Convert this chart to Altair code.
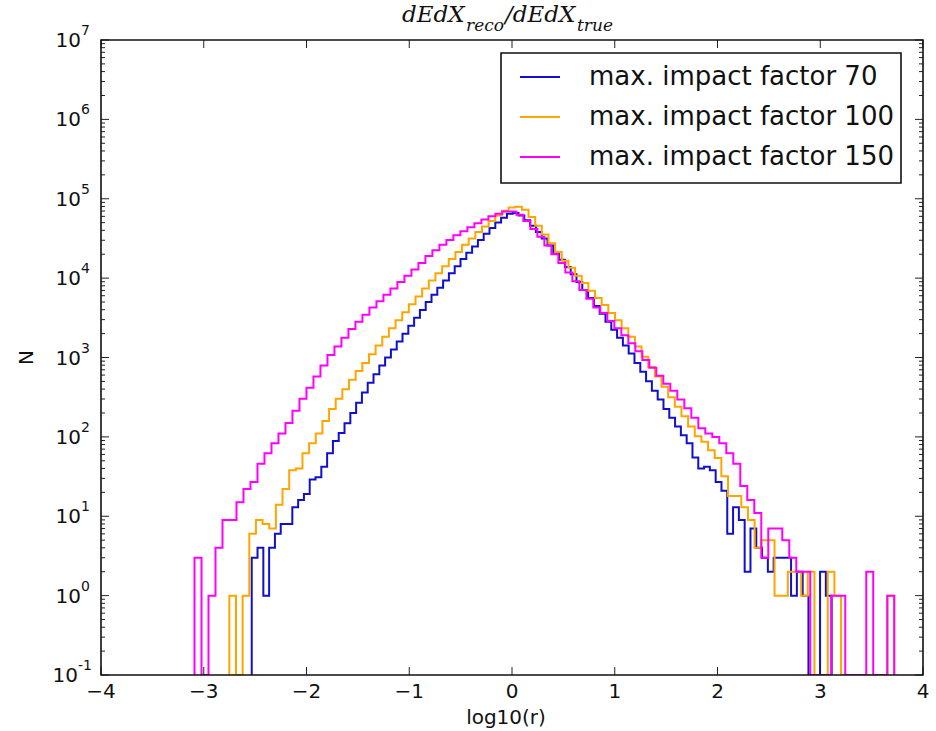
import altair as alt
import numpy as np
import pandas as pd

# ---------------- data ----------------
labels = ["max. impact factor 70", "max. impact factor 100", "max. impact factor 150"]
colors = ["#1010cc", "#ffa500", "#ff00ff"]
range_lo = [-2.533, -2.751, -3.09]
range_hi = [3.111, 3.72, 3.72]

n70 = [3, 4, 1, 4, 6, 8, 8, 13, 16, 19, 29, 31, 42, 62,
       89, 112, 148, 200, 269, 363, 479, 617, 794, 1000, 1259, 1585, 1995, 2512, 3162, 3981,
       5012, 6166, 7586, 9333, 11482, 14125, 17378, 20893, 25119, 30200, 36308, 42658, 50119, 57544, 64565, 66069,
       61660, 53703, 45709, 38019, 31623, 25704, 20893, 16982, 13804, 11220, 8913, 7079, 5623, 4467, 3548, 2818,
       2239, 1778, 1413, 1122, 851, 661, 501, 380, 295, 224, 174, 135, 105, 83,
       55, 40, 42, 38, 27, 21, 6, 13, 9, 2, 7, 4, 3, 2, 3, 3, 3, 1, 2, 1, 0, 0, 2, 1]

n100 = [1, 0, 1, 6, 9, 8, 7, 14, 22, 38, 40, 62, 83, 110,
        158, 224, 302, 398, 525, 676, 851, 1096, 1413, 1820, 2344, 2951, 3715, 4677, 5888, 7413,
        9333, 11482, 14125, 17378, 21380, 26303, 31623, 38019, 44668, 52481, 61660, 70795, 77625, 79433, 72444, 58884,
        45709, 35481, 27542, 21380, 16596, 13490, 10715, 8710, 6918, 5623, 4571, 3631, 2951, 2344, 1820, 1380,
        1023, 759, 575, 427, 316, 240, 182, 135, 102,
        87, 68, 54, 32, 18, 18, 13, 9, 4, 5, 5, 1, 1, 2, 2, 1, 2, 0, 0, 2, 1, 0, 0, 0, 0, 0, 0, 0, 1]

n150 = [3, 0, 1, 4, 9, 9, 15, 22, 27, 46, 62, 83, 110, 150,
        214, 302, 417, 575, 794, 1072, 1380, 1778, 2291, 2818, 3467, 4266, 5129, 6166, 7413, 8913,
        10715, 12882, 15488, 19055, 22387, 26303, 30200, 34674, 38905, 43652, 48978, 54954, 60256, 64565, 69183, 69183,
        63096, 52481, 41687, 33113, 25704, 19953, 15488, 11749, 9120, 7079, 5495, 4266,
        3631, 2884, 2344, 1905, 1514, 1202, 933, 741, 589, 468, 380, 295, 229, 174,
        128, 110, 100, 83, 62, 46, 24, 16, 11, 3, 7, 7, 5, 3, 2, 2, 0, 0, 0, 1, 1, 0, 0, 0, 2, 0, 0, 1]

x_ticks = [-4, -3, -2, -1, 0, 1, 2, 3, 4]
y_exps = [-1, 0, 1, 2, 3, 4, 5, 6, 7]

title_parts = ["dEdX", "reco", "/dEdX", "true"]
x_title = "log10(r)"
y_title = "N"

# ---------------- layout ----------------
W, H = 822, 635
FONT = "DejaVu Sans"

xscale = alt.Scale(domain=[-4, 4], nice=False, zero=False)
yscale = alt.Scale(type="log", domain=[0.1, 1e7], clamp=True, nice=False)


def step_frame(counts, a, b):
    edges = np.linspace(a, b, len(counts) + 1)
    xs = [edges[0]] + list(edges[:-1]) + [edges[-1], edges[-1]]
    ns = [0] + list(counts) + [counts[-1], 0]
    return pd.DataFrame({"x": xs, "n": ns, "o": list(range(len(xs)))})


layers = []
for lab, col, a, b, cnt in zip(labels, colors, range_lo, range_hi, [n70, n100, n150]):
    d = step_frame(cnt, a, b)
    layers.append(
        alt.Chart(d)
        .transform_calculate(ny="max(datum.n, 0.01)")
        .mark_line(interpolate="step-after", color=col, strokeWidth=2, clip=True)
        .encode(
            x=alt.X("x:Q", scale=xscale, axis=None),
            y=alt.Y("ny:Q", scale=yscale, axis=None),
            order=alt.Order("o:Q"),
        )
    )

one = pd.DataFrame({"a": [0]})

# ticks
xt = pd.DataFrame({"t": x_ticks,
                   "lab": [("\u2212" + str(abs(t))) if t < 0 else str(t) for t in x_ticks]})
majors = [10.0 ** e for e in y_exps]
minors = [m * 10.0 ** e for e in y_exps[:-1] for m in range(2, 10)]
ymaj = pd.DataFrame({"v": majors})
ymin = pd.DataFrame({"v": minors})

tick_col = "#222222"
for y0, y1 in [(H, H - 8), (0, 8)]:
    layers.append(
        alt.Chart(xt).mark_rule(color=tick_col, strokeWidth=1).encode(
            x=alt.X("t:Q", scale=xscale, axis=None), y=alt.value(y0), y2=alt.value(y1))
    )
for dfv, ln in [(ymaj, 8), (ymin, 4)]:
    for x0, x1 in [(0, ln), (W, W - ln)]:
        layers.append(
            alt.Chart(dfv).mark_rule(color=tick_col, strokeWidth=1).encode(
                y=alt.Y("v:Q", scale=yscale, axis=None), x=alt.value(x0), x2=alt.value(x1))
        )

# frame
layers.append(
    alt.Chart(one).mark_rect(fillOpacity=0, stroke="#111111", strokeWidth=1.6).encode(
        x=alt.value(0), x2=alt.value(W), y=alt.value(0), y2=alt.value(H))
)

# x tick labels
layers.append(
    alt.Chart(xt).mark_text(font=FONT, fontSize=20, baseline="top", color="#111111").encode(
        x=alt.X("t:Q", scale=xscale, axis=None), y=alt.value(H + 7), text="lab:N")
)

# y tick labels: "10" + exponent
ylab_pos = pd.DataFrame({"v": [10.0 ** e for e in y_exps if e >= 0],
                         "sup": [str(e) for e in y_exps if e >= 0]})
ylab_neg = pd.DataFrame({"v": [10.0 ** e for e in y_exps if e < 0],
                         "sup": ["-" + str(abs(e)) for e in y_exps if e < 0]})
for dfl, bx in [(ylab_pos, -20), (ylab_neg, -23)]:
    layers.append(
        alt.Chart(dfl).transform_calculate(base="'10'").mark_text(
            font=FONT, fontSize=20, align="right", baseline="middle", dy=1, color="#111111").encode(
            y=alt.Y("v:Q", scale=yscale, axis=None), x=alt.value(bx), text="base:N")
    )
    layers.append(
        alt.Chart(dfl).mark_text(
            font=FONT, fontSize=14, align="left", baseline="middle", dy=-9, color="#111111").encode(
            y=alt.Y("v:Q", scale=yscale, axis=None), x=alt.value(bx), text="sup:N")
    )

# axis titles
layers.append(
    alt.Chart(pd.DataFrame({"s": [x_title]})).mark_text(
        font=FONT, fontSize=20, align="center", baseline="middle", color="#111111").encode(
        x=alt.value(W / 2 - 6), y=alt.value(H + 43), text="s:N")
)
layers.append(
    alt.Chart(pd.DataFrame({"s": [y_title]})).mark_text(
        font=FONT, fontSize=20, angle=270, align="center", baseline="middle", color="#111111").encode(
        x=alt.value(-74), y=alt.value(H / 2), text="s:N")
)

# main title (math-style, italic serif with subscripts)
tpos = [(301, -18, 23), (365, -9, 17), (404, -18, 23), (476, -9, 17)]
for txt, (tx, ty, fs) in zip(title_parts, tpos):
    layers.append(
        alt.Chart(pd.DataFrame({"s": [txt]})).mark_text(
            font="DejaVu Serif", fontStyle="italic", fontSize=fs, align="left",
            baseline="alphabetic", color="#111111").encode(
            x=alt.value(tx), y=alt.value(ty), text="s:N")
    )

# legend
LX0, LX1, LY0, LY1 = 400, 800, 13, 143
layers.append(
    alt.Chart(one).mark_rect(fill="white", stroke="#111111", strokeWidth=1.6).encode(
        x=alt.value(LX0), x2=alt.value(LX1), y=alt.value(LY0), y2=alt.value(LY1))
)
for i, (lab, col) in enumerate(zip(labels, colors)):
    yy = 37 + 40 * i
    layers.append(
        alt.Chart(one).mark_rule(color=col, strokeWidth=2).encode(
            x=alt.value(419), x2=alt.value(459), y=alt.value(yy))
    )
    layers.append(
        alt.Chart(pd.DataFrame({"s": [lab]})).mark_text(
            font=FONT, fontSize=26, align="left", baseline="middle", color="#111111").encode(
            x=alt.value(488), y=alt.value(yy), text="s:N")
    )

chart = alt.layer(*layers).properties(
    width=W, height=H,
    padding={"left": 101, "top": 40, "right": 13, "bottom": 56},
    autosize=alt.AutoSizeParams(type="none"),
    background="white",
).configure_view(stroke=None)

chart.save("out.html", embed_options={"renderer": "svg", "actions": False})
